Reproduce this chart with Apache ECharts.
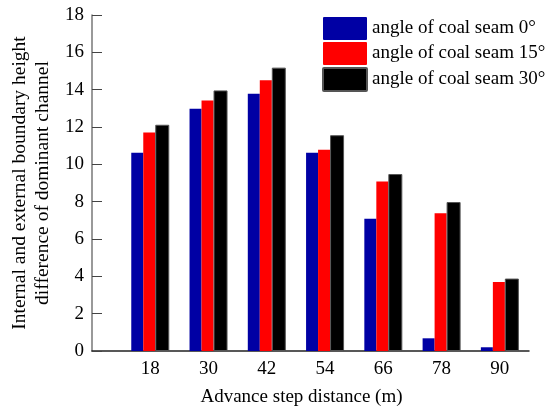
<!DOCTYPE html>
<html>
<head>
<meta charset="utf-8">
<script src="https://cdn.jsdelivr.net/npm/echarts@6/dist/echarts.min.js"></script>
<style>html,body{margin:0;padding:0;background:#fff;}#c{width:547px;height:406px;}</style>
</head>
<body>
<div id="c"></div>
<script>
var categories = [18, 30, 42, 54, 66, 78, 90];
var seriesNames = ['angle of coal seam 0°', 'angle of coal seam 15°', 'angle of coal seam 30°'];
var angle0 = [10.62, 12.98, 13.78, 10.62, 7.08, 0.68, 0.2];
var angle15 = [11.7, 13.42, 14.5, 10.78, 9.08, 7.38, 3.7];
var angle30 = [12.12, 13.96, 15.18, 11.56, 9.48, 7.98, 3.88];
var yTicks = [0, 2, 4, 6, 8, 10, 12, 14, 16, 18];

function pairs(vals) { return categories.map(function (c, i) { return [c, vals[i]]; }); }

var font = 'Liberation Serif';
var chart = echarts.init(document.getElementById('c'));
chart.setOption({
  animation: false,
  grid: { left: 92, right: 18, top: 15, bottom: 55, containLabel: false, outerBoundsMode: 'none' },
  legend: {
    orient: 'vertical', left: 322, top: 17, padding: 0, itemWidth: 44, itemHeight: 23, itemGap: 2,
    icon: 'path://M1,0 L43,0 Q44,0 44,1 L44,22 Q44,23 43,23 L1,23 Q0,23 0,22 L0,1 Q0,0 1,0 Z',
    textStyle: { fontFamily: font, fontSize: 19, color: '#000' },
    data: seriesNames
  },
  xAxis: {
    type: 'value', min: 6, max: 96, interval: 12,
    name: 'Advance step distance (m)', nameLocation: 'middle', nameGap: 37,
    nameTextStyle: { fontFamily: font, fontSize: 19, color: '#000', padding: [0, 18, 0, 0] },
    axisLine: { show: true, lineStyle: { color: '#222', width: 1.5 } },
    axisTick: { show: true, inside: true, length: 9, lineStyle: { color: '#222' } },
    axisLabel: { fontFamily: font, fontSize: 19, color: '#000', margin: 9, showMinLabel: false, showMaxLabel: false,
      formatter: function (v) { return categories.indexOf(v) >= 0 ? String(v) : ''; } },
    splitLine: { show: false }
  },
  yAxis: {
    type: 'value', min: yTicks[0], max: yTicks[yTicks.length - 1], interval: 2,
    name: 'Internal and external boundary height\ndifference of dominant channel',
    nameLocation: 'middle', nameGap: 29, nameRotate: 90,
    nameTextStyle: { fontFamily: font, fontSize: 19.5, color: '#000', lineHeight: 23 },
    axisLine: { show: true, lineStyle: { color: '#777', width: 1.5 } },
    axisTick: { show: true, inside: true, length: 10, lineStyle: { color: '#444' } },
    axisLabel: { fontFamily: font, fontSize: 19, color: '#000', margin: 8 },
    splitLine: { show: false }
  },
  series: [
    { name: seriesNames[0], type: 'bar', data: pairs(angle0), barWidth: 12, barGap: '0%', itemStyle: { color: '#0000A4' } },
    { name: seriesNames[1], type: 'bar', data: pairs(angle15), barWidth: 12, barGap: '0%', itemStyle: { color: '#FF0000' } },
    { name: seriesNames[2], type: 'bar', data: pairs(angle30), barWidth: 14, barGap: '0%', itemStyle: { color: '#000000', borderColor: '#555', borderWidth: 1 } }
  ]
});
</script>
</body>
</html>
